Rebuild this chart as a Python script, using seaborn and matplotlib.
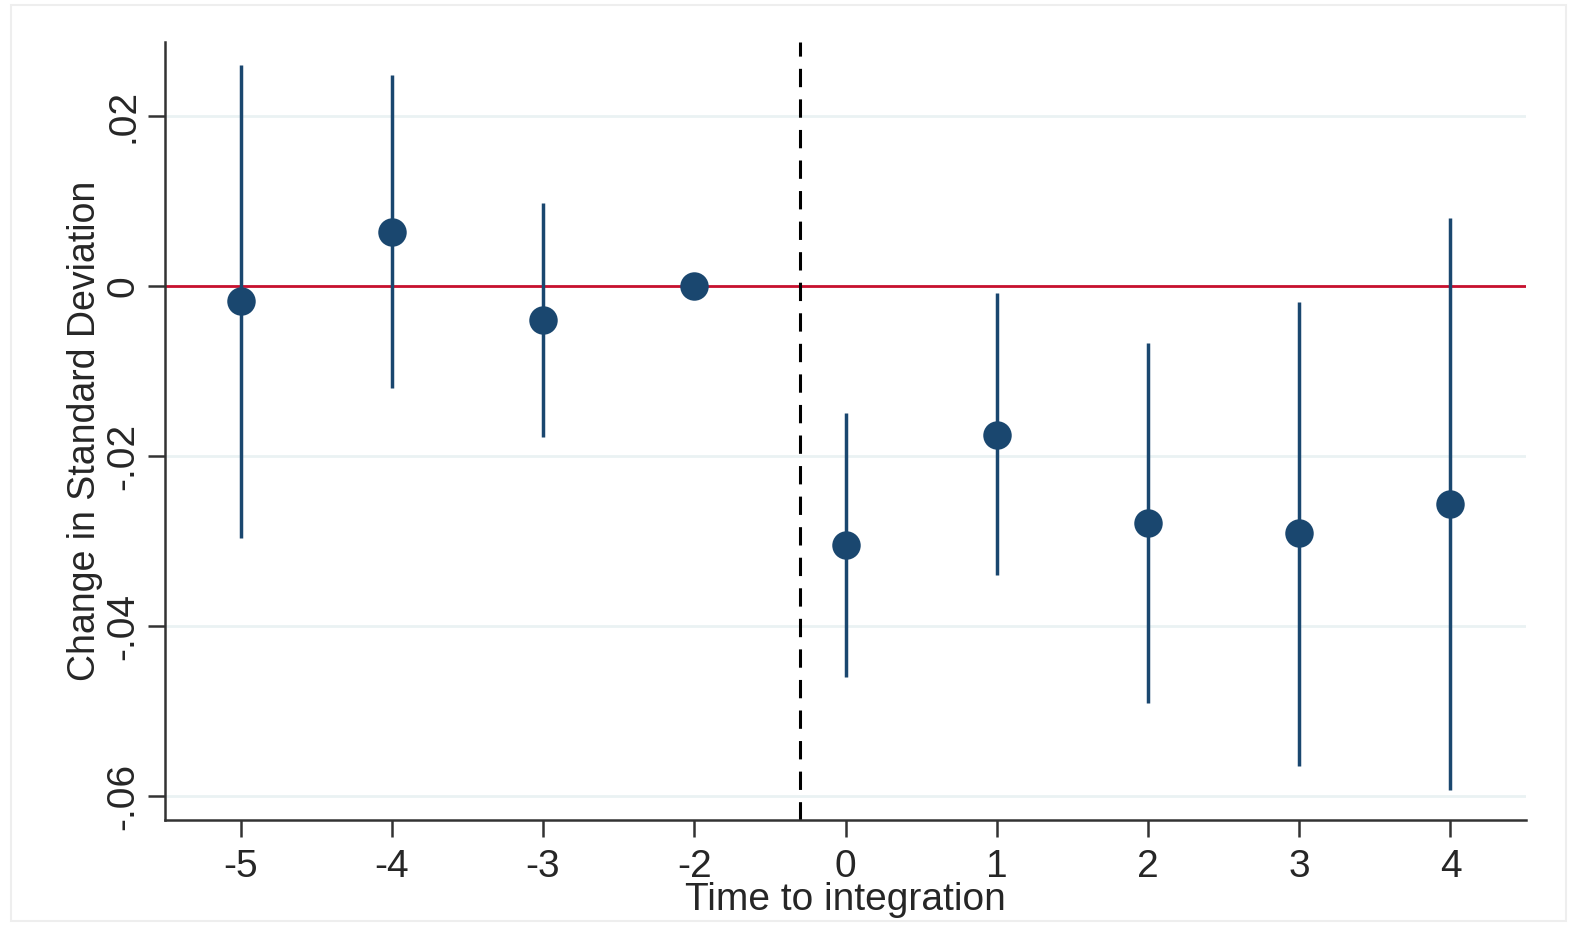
import numpy as np
import pandas as pd
import matplotlib
matplotlib.use('Agg')
import matplotlib.pyplot as plt
import seaborn as sns

# Datos
periods = ['-5', '-4', '-3', '-2', '0', '1', '2', '3', '4']
coef = [-0.0018, 0.0064, -0.0040, 0.0, -0.0305, -0.0175, -0.0279, -0.0291, -0.0256]
ci_low = [-0.0296, -0.0120, -0.0178, 0.0, -0.0460, -0.0340, -0.0490, -0.0564, -0.0593]
ci_high = [0.0260, 0.0248, 0.0098, 0.0, -0.0149, -0.0008, -0.0067, -0.0019, 0.0080]
yticks = [-0.06, -0.04, -0.02, 0, 0.02]
ytick_labels = ['-.06', '-.04', '-.02', '0', '.02']

sns.set_style('white')
plt.rcParams['font.family'] = ['Liberation Sans', 'DejaVu Sans']

df = pd.DataFrame({'period': periods, 'coef': coef, 'lo': ci_low, 'hi': ci_high})
df['pos'] = np.arange(len(df))

navy = '#1a476f'
fig = plt.figure(figsize=(15.71, 9.26), dpi=100)
# borde claro del grafico
fig.patches.append(plt.Rectangle((0.007, 0.005), 0.99, 0.99, transform=fig.transFigure,
                                 fill=False, edgecolor='#eeeeee', lw=1.5))
ax = fig.add_axes([0.105, 0.1145, 0.8664, 0.8401])

for y in yticks:
    ax.axhline(y, color='#eaf2f3', lw=2, zorder=0)
ax.axhline(0, color='#c8102e', lw=2, zorder=1)
ax.axvline(3.7, color='black', lw=2.2, ls=(0, (6, 4)), zorder=1)

ax.vlines(df['pos'], df['lo'], df['hi'], color=navy, lw=2.5, zorder=2)
sns.scatterplot(data=df, x='pos', y='coef', ax=ax, color=navy, s=420,
                edgecolor=navy, linewidth=0, zorder=3)

ax.set_xlim(-0.5, 8.5)
ax.set_ylim(-0.0628, 0.0287)
ax.set_xticks(df['pos'])
ax.set_xticklabels(periods)
ax.set_yticks(yticks)
ax.set_yticklabels(ytick_labels, rotation=90, va='center')
ax.tick_params(axis='both', direction='out', length=12, width=1.8, color='#333333',
               labelsize=28, bottom=True, left=True)
ax.tick_params(axis='x', pad=9)
ax.tick_params(axis='y', pad=5)
for side in ['top', 'right']:
    ax.spines[side].set_visible(False)
for side in ['left', 'bottom']:
    ax.spines[side].set_color('#333333')
    ax.spines[side].set_linewidth(1.8)

ax.set_xlabel('Time to integration', fontsize=28, labelpad=-2)
ax.set_ylabel('Change in Standard Deviation', fontsize=27, labelpad=2)

fig.savefig('out.png', dpi=100)
